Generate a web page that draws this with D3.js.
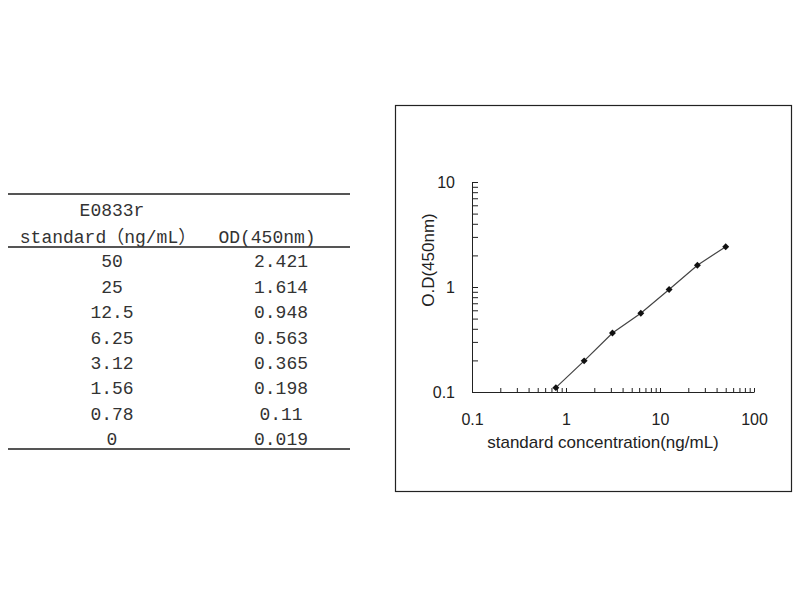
<!DOCTYPE html>
<html>
<head>
<meta charset="utf-8">
<script src="https://cdn.jsdelivr.net/npm/d3@7"></script>
<style>
  body { margin: 0; background: #fff; }
</style>
</head>
<body>
<script>
// Data
var kitName = "E0833r";
var colHeads = ["standard（ng/mL）", "OD(450nm)"];
var concLabels = ["50", "25", "12.5", "6.25", "3.12", "1.56", "0.78", "0"];
var odLabels = ["2.421", "1.614", "0.948", "0.563", "0.365", "0.198", "0.11", "0.019"];
var conc = [50, 25, 12.5, 6.25, 3.12, 1.56, 0.78, 0];
var od = [2.421, 1.614, 0.948, 0.563, 0.365, 0.198, 0.11, 0.019];

var w = 800, h = 600;

var svg = d3.select("body")
    .append("svg")
    .attr("width", w)
    .attr("height", h);

// ---- table on the left ----
var tab = svg.append("g")
    .attr("font-family", "'Liberation Mono', 'Noto Sans CJK SC', monospace")
    .attr("font-size", 18)
    .attr("fill", "#333");

var col1 = 112, col2 = 281;
var rowY = d3.scaleLinear().domain([0, 7]).range([261, 439]);

[194, 247, 449].forEach(function (yy) {
  tab.append("line")
      .attr("x1", 8).attr("x2", 350)
      .attr("y1", yy).attr("y2", yy)
      .attr("stroke", "#555")
      .attr("stroke-width", 2);
});

tab.append("text")
    .attr("x", col1).attr("y", 210).attr("dy", "0.35em")
    .attr("text-anchor", "middle")
    .text(kitName);
tab.append("text")
    .attr("x", 108).attr("y", 237).attr("dy", "0.35em")
    .attr("text-anchor", "middle")
    .text(colHeads[0]);
tab.append("text")
    .attr("x", 267).attr("y", 237).attr("dy", "0.35em")
    .attr("text-anchor", "middle")
    .text(colHeads[1]);

tab.selectAll(".c1").data(concLabels).enter().append("text")
    .attr("class", "c1")
    .attr("x", col1)
    .attr("y", (d, i) => rowY(i))
    .attr("dy", "0.35em")
    .attr("text-anchor", "middle")
    .text(d => d);

tab.selectAll(".c2").data(odLabels).enter().append("text")
    .attr("class", "c2")
    .attr("x", col2)
    .attr("y", (d, i) => rowY(i))
    .attr("dy", "0.35em")
    .attr("text-anchor", "middle")
    .text(d => d);

// ---- chart on the right ----
svg.append("rect")
    .attr("x", 395.5).attr("y", 105.5)
    .attr("width", 396).attr("height", 386)
    .attr("fill", "none")
    .attr("stroke", "#222")
    .attr("stroke-width", 1.2);

var pLeft = 472, pRight = 754, pTop = 182, pBottom = 392;

var x = d3.scaleLog().domain([0.1, 100]).range([pLeft, pRight]);
var y = d3.scaleLog().domain([0.1, 10]).range([pBottom, pTop]);

function fmt(d) {
  var l = Math.log10(d);
  return Math.abs(l - Math.round(l)) < 1e-6 ? String(+d.toPrecision(1)) : "";
}

var xAxis = d3.axisBottom(x)
    .tickValues(x.ticks())
    .tickSizeInner(-4)
    .tickSizeOuter(0)
    .tickPadding(22)
    .tickFormat(fmt);

var yAxis = d3.axisLeft(y)
    .tickValues(y.ticks())
    .tickSizeInner(-6)
    .tickSizeOuter(0)
    .tickPadding(17)
    .tickFormat(fmt);

var gx = svg.append("g")
    .attr("transform", `translate(0, ${pBottom})`)
    .call(xAxis);
var gy = svg.append("g")
    .attr("transform", `translate(${pLeft}, 0)`)
    .call(yAxis);

[gx, gy].forEach(function (g) {
  g.selectAll("path, line").attr("stroke", "#222");
  g.selectAll("text")
      .attr("font-family", "Arial, 'Liberation Sans', sans-serif")
      .attr("font-size", 16)
      .attr("fill", "#222");
});

svg.append("text")
    .attr("x", 603)
    .attr("y", 448)
    .attr("text-anchor", "middle")
    .attr("font-family", "Arial, 'Liberation Sans', sans-serif")
    .attr("font-size", 17)
    .attr("fill", "#222")
    .text("standard concentration(ng/mL)");

svg.append("text")
    .attr("transform", "translate(434, 260) rotate(-90)")
    .attr("text-anchor", "middle")
    .attr("font-family", "Arial, 'Liberation Sans', sans-serif")
    .attr("font-size", 17)
    .attr("fill", "#222")
    .text("O.D(450nm)");

// points (zero concentration cannot sit on a log axis)
var pts = conc.map((c, i) => ({c: c, od: od[i]})).filter(d => d.c > 0);

var line = d3.line()
    .x(d => x(d.c))
    .y(d => y(d.od));

svg.append("path")
    .datum(pts)
    .attr("d", line)
    .attr("fill", "none")
    .attr("stroke", "#444")
    .attr("stroke-width", 1.2);

svg.selectAll(".pt").data(pts).enter().append("path")
    .attr("class", "pt")
    .attr("transform", d => `translate(${x(d.c)}, ${y(d.od)}) rotate(45)`)
    .attr("d", d3.symbol().type(d3.symbolSquare).size(24))
    .attr("fill", "#111");
</script>
</body>
</html>
